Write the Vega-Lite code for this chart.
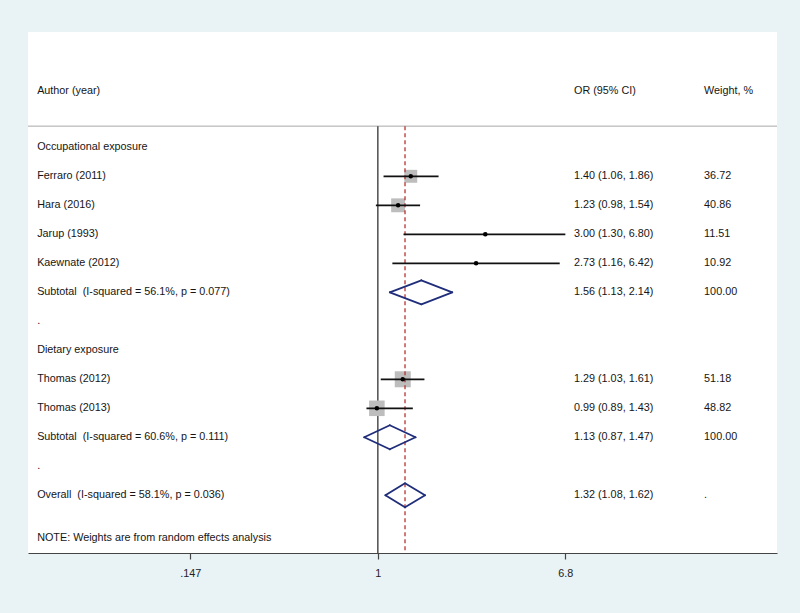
{
  "$schema": "https://vega.github.io/schema/vega-lite/v6.json",
  "autosize": {"type": "none"},
  "width": 749,
  "height": 521,
  "padding": {"left": 28, "top": 32, "right": 23, "bottom": 60},
  "background": "#e9f2f5",
  "config": {
    "view": {"fill": "white", "stroke": null},
    "font": "Liberation Sans",
    "text": {"font": "Liberation Sans", "fontSize": 10.8, "color": "#151515", "baseline": "middle", "align": "left"}
  },
  "datasets": {
    "forest_rows": [
      {"kind": "header", "label": "Author (year)", "ci": "OR (95% CI)", "wt": "Weight, %"},
      {"row": 1, "label": "Occupational exposure", "kind": "group"},
      {"row": 2, "label": "Ferraro (2011)", "kind": "study", "or": 1.40, "lo": 1.06, "hi": 1.86, "ci": "1.40 (1.06, 1.86)", "w": 36.72, "wt": "36.72"},
      {"row": 3, "label": "Hara (2016)", "kind": "study", "or": 1.23, "lo": 0.98, "hi": 1.54, "ci": "1.23 (0.98, 1.54)", "w": 40.86, "wt": "40.86"},
      {"row": 4, "label": "Jarup (1993)", "kind": "study", "or": 3.00, "lo": 1.30, "hi": 6.80, "ci": "3.00 (1.30, 6.80)", "w": 11.51, "wt": "11.51"},
      {"row": 5, "label": "Kaewnate (2012)", "kind": "study", "or": 2.73, "lo": 1.16, "hi": 6.42, "ci": "2.73 (1.16, 6.42)", "w": 10.92, "wt": "10.92"},
      {"row": 6, "label": "Subtotal\u00a0\u00a0(I-squared = 56.1%, p = 0.077)", "kind": "subtotal", "or": 1.56, "lo": 1.13, "hi": 2.14, "ci": "1.56 (1.13, 2.14)", "wt": "100.00"},
      {"row": 7, "label": ".", "kind": "blank"},
      {"row": 8, "label": "Dietary exposure", "kind": "group"},
      {"row": 9, "label": "Thomas (2012)", "kind": "study", "or": 1.29, "lo": 1.03, "hi": 1.61, "ci": "1.29 (1.03, 1.61)", "w": 51.18, "wt": "51.18"},
      {"row": 10, "label": "Thomas (2013)", "kind": "study", "or": 0.99, "lo": 0.89, "hi": 1.43, "ci": "0.99 (0.89, 1.43)", "w": 48.82, "wt": "48.82"},
      {"row": 11, "label": "Subtotal\u00a0\u00a0(I-squared = 60.6%, p = 0.111)", "kind": "subtotal", "or": 1.13, "lo": 0.87, "hi": 1.47, "ci": "1.13 (0.87, 1.47)", "wt": "100.00"},
      {"row": 12, "label": ".", "kind": "blank"},
      {"row": 13, "label": "Overall\u00a0\u00a0(I-squared = 58.1%, p = 0.036)", "kind": "overall", "or": 1.32, "lo": 1.08, "hi": 1.62, "ci": "1.32 (1.08, 1.62)", "wt": "."},
      {"kind": "note", "label": "NOTE: Weights are from random effects analysis"}
    ]
  },
  "data": {"name": "forest_rows"},
  "layer": [
    {
      "transform": [{"filter": "datum.kind == 'header'"}],
      "mark": {"type": "rule", "color": "#a8a8a8", "strokeWidth": 1},
      "encoding": {"y": {"datum": 0.27, "type": "quantitative", "scale": {"domain": [-2.976, 14.99], "reverse": true, "nice": false, "zero": false}, "axis": null}}
    },
    {
      "transform": [{"filter": "datum.kind == 'header'"}],
      "mark": {"type": "rule", "color": "#333333", "strokeWidth": 1.3},
      "encoding": {
        "x": {"datum": 1, "type": "quantitative"},
        "y": {"datum": 0.27, "type": "quantitative"},
        "y2": {"datum": 14.99}
      }
    },
    {
      "transform": [{"filter": "datum.kind == 'study'"}],
      "mark": {"type": "point", "shape": "square", "filled": true, "color": "#bdbdbd", "opacity": 1},
      "encoding": {
        "x": {"field": "or", "type": "quantitative"},
        "y": {"field": "row", "type": "quantitative"},
        "size": {"field": "w", "type": "quantitative", "scale": {"type": "linear", "domain": [12, 51.18], "range": [16, 256], "zero": false, "clamp": false}, "legend": null}
      }
    },
    {
      "transform": [{"filter": "datum.kind == 'overall'"}],
      "mark": {"type": "rule", "color": "#b83232", "strokeWidth": 1.3, "strokeDash": [4, 3]},
      "encoding": {
        "x": {"field": "or", "type": "quantitative"},
        "y": {"datum": 0.27, "type": "quantitative"},
        "y2": {"datum": 14.99}
      }
    },
    {
      "transform": [{"filter": "datum.kind == 'study'"}],
      "mark": {"type": "rule", "color": "#111111", "strokeWidth": 1.8},
      "encoding": {
        "x": {"field": "lo", "type": "quantitative", "scale": {"type": "log", "domain": [0.02796, 59.2], "nice": false}, "axis": {
          "values": [0.147, 1, 6.8],
          "labelExpr": "datum.value < 1 ? substring(toString(datum.value), 1) : toString(datum.value)",
          "title": null, "grid": false,
          "domainColor": "#444444", "domainWidth": 1.2,
          "tickColor": "#444444", "tickSize": 6, "tickWidth": 1.2,
          "labelFont": "Liberation Sans", "labelFontSize": 10.8, "labelColor": "#222222", "labelPadding": 8
        }},
        "x2": {"field": "hi"},
        "y": {"field": "row", "type": "quantitative"}
      }
    },
    {
      "transform": [{"filter": "datum.kind == 'study'"}],
      "mark": {"type": "point", "shape": "circle", "filled": true, "color": "#000000", "size": 20, "opacity": 1},
      "encoding": {"x": {"field": "or", "type": "quantitative"}, "y": {"field": "row", "type": "quantitative"}}
    },
    {
      "transform": [{"filter": "datum.kind == 'subtotal' || datum.kind == 'overall'"}],
      "mark": {"type": "rule", "color": "#1f2d7a", "strokeWidth": 1.8, "strokeCap": "round", "y2Offset": -12},
      "encoding": {"x": {"field": "lo", "type": "quantitative"}, "x2": {"field": "or"}, "y": {"field": "row", "type": "quantitative"}, "y2": {"field": "row"}}
    },
    {
      "transform": [{"filter": "datum.kind == 'subtotal' || datum.kind == 'overall'"}],
      "mark": {"type": "rule", "color": "#1f2d7a", "strokeWidth": 1.8, "strokeCap": "round", "y2Offset": 12},
      "encoding": {"x": {"field": "lo", "type": "quantitative"}, "x2": {"field": "or"}, "y": {"field": "row", "type": "quantitative"}, "y2": {"field": "row"}}
    },
    {
      "transform": [{"filter": "datum.kind == 'subtotal' || datum.kind == 'overall'"}],
      "mark": {"type": "rule", "color": "#1f2d7a", "strokeWidth": 1.8, "strokeCap": "round", "yOffset": -12},
      "encoding": {"x": {"field": "or", "type": "quantitative"}, "x2": {"field": "hi"}, "y": {"field": "row", "type": "quantitative"}, "y2": {"field": "row"}}
    },
    {
      "transform": [{"filter": "datum.kind == 'subtotal' || datum.kind == 'overall'"}],
      "mark": {"type": "rule", "color": "#1f2d7a", "strokeWidth": 1.8, "strokeCap": "round", "yOffset": 12},
      "encoding": {"x": {"field": "or", "type": "quantitative"}, "x2": {"field": "hi"}, "y": {"field": "row", "type": "quantitative"}, "y2": {"field": "row"}}
    },
    {
      "transform": [{"filter": "isValid(datum.row)"}],
      "mark": {"type": "text"},
      "encoding": {"x": {"datum": 0.0307, "type": "quantitative"}, "y": {"field": "row", "type": "quantitative"}, "text": {"field": "label"}}
    },
    {
      "transform": [{"filter": "isValid(datum.row) && isValid(datum.ci)"}],
      "mark": {"type": "text"},
      "encoding": {"x": {"datum": 7.43, "type": "quantitative"}, "y": {"field": "row", "type": "quantitative"}, "text": {"field": "ci"}}
    },
    {
      "transform": [{"filter": "isValid(datum.row) && isValid(datum.wt)"}],
      "mark": {"type": "text"},
      "encoding": {"x": {"datum": 28.1, "type": "quantitative"}, "y": {"field": "row", "type": "quantitative"}, "text": {"field": "wt"}}
    },
    {
      "transform": [{"filter": "datum.kind == 'header'"}],
      "mark": {"type": "text"},
      "encoding": {"x": {"datum": 0.0307, "type": "quantitative"}, "y": {"datum": -0.94, "type": "quantitative"}, "text": {"field": "label"}}
    },
    {
      "transform": [{"filter": "datum.kind == 'header'"}],
      "mark": {"type": "text"},
      "encoding": {"x": {"datum": 7.43, "type": "quantitative"}, "y": {"datum": -0.94, "type": "quantitative"}, "text": {"field": "ci"}}
    },
    {
      "transform": [{"filter": "datum.kind == 'header'"}],
      "mark": {"type": "text"},
      "encoding": {"x": {"datum": 28.1, "type": "quantitative"}, "y": {"datum": -0.94, "type": "quantitative"}, "text": {"field": "wt"}}
    },
    {
      "transform": [{"filter": "datum.kind == 'note'"}],
      "mark": {"type": "text"},
      "encoding": {"x": {"datum": 0.0307, "type": "quantitative"}, "y": {"datum": 14.48, "type": "quantitative"}, "text": {"field": "label"}}
    }
  ]
}
